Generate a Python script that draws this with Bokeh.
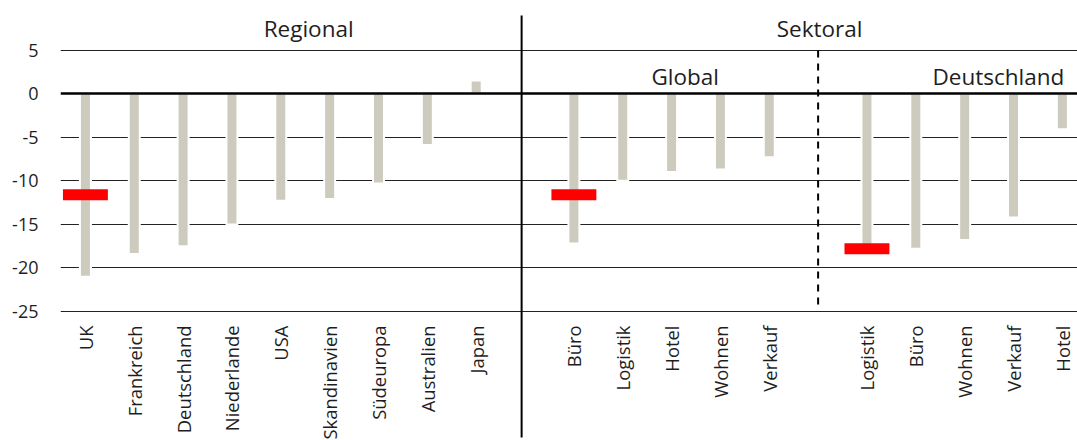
import math
from bokeh.plotting import figure
from bokeh.models import Range1d, FixedTicker, ColumnDataSource
from bokeh.core.properties import value
from bokeh.embed import file_html
from bokeh.resources import INLINE

# ---- data ----
regional_labels = ["UK", "Frankreich", "Deutschland", "Niederlande", "USA",
                   "Skandinavien", "Südeuropa", "Australien", "Japan"]
regional_values = [-21.0, -18.4, -17.5, -15.0, -12.3, -12.1, -10.3, -5.9, 1.5]

global_labels = ["Büro", "Logistik", "Hotel", "Wohnen", "Verkauf"]
global_values = [-17.2, -10.0, -9.0, -8.7, -7.3]

de_labels = ["Logistik", "Büro", "Wohnen", "Verkauf", "Hotel"]
de_values = [-18.4, -17.8, -16.8, -14.2, -4.1]

# red markers: (group, category, value)
marker_cats = [("Regional", "UK"), ("Global", "Büro"), ("Deutschland", "Logistik")]
marker_values = [-11.6, -11.6, -17.8]

y_ticks = [-25, -20, -15, -10, -5, 0, 5]

group_titles = ["Regional", "Sektoral", "Global", "Deutschland"]

# ---- layout positions (slots, with one empty slot between groups) ----
reg_x = list(range(0, len(regional_labels)))
glo_x = list(range(len(regional_labels) + 1, len(regional_labels) + 1 + len(global_labels)))
de_start = glo_x[-1] + 2
de_x = list(range(de_start, de_start + len(de_labels)))

all_x = reg_x + glo_x + de_x
all_labels = regional_labels + global_labels + de_labels
all_values = regional_values + global_values + de_values

pos_lookup = {"Regional": dict(zip(regional_labels, reg_x)),
              "Global": dict(zip(global_labels, glo_x)),
              "Deutschland": dict(zip(de_labels, de_x))}
marker_x = [pos_lookup[g][c] for g, c in marker_cats]

FONT = "Open Sans"
TXT = "#1e1e1e"

p = figure(width=1077, height=440, output_backend="svg", toolbar_location=None,
           x_range=Range1d(-0.51, 20.31), y_range=Range1d(-39.79, 10.68),
           min_border_left=60, min_border_right=0, min_border_top=0, min_border_bottom=0,
           x_axis_location=None)
p.outline_line_color = None
p.xgrid.visible = False
p.ygrid.visible = False
p.background_fill_color = "white"
p.border_fill_color = "white"

ax = p.yaxis[0]
ax.ticker = FixedTicker(ticks=y_ticks)
ax.major_label_overrides = {t: str(t) for t in y_ticks}
ax.axis_line_color = None
ax.major_tick_line_color = None
ax.minor_tick_line_color = None
ax.major_label_standoff = 16
ax.major_label_text_font = FONT
ax.major_label_text_font_size = "18px"
ax.major_label_text_color = TXT

# gridlines (non-zero)
grid_y = [t for t in y_ticks if t != 0]
p.hspan(y=grid_y, line_color="#222222", line_width=1.2)

# bars
src = ColumnDataSource(dict(x=all_x, top=all_values, bottom=[0] * len(all_x)))
p.vbar(x="x", top="top", bottom="bottom", width=0.225, source=src,
       fill_color="#cdcbbd", line_color="white", line_width=2)

# zero line
p.hspan(y=[0], line_color="black", line_width=2.7)

# red markers
p.rect(x=marker_x, y=marker_values, width=0.92, height=11, height_units="screen",
       fill_color="#ff0000", line_color=None)

# separators
sep_solid = (reg_x[-1] + glo_x[0]) / 2 - 0.07
sep_dash = (glo_x[-1] + de_x[0]) / 2
p.segment(x0=[sep_solid], y0=[8.96], x1=[sep_solid], y1=[-39.45], line_color="black", line_width=2)
p.segment(x0=[sep_dash], y0=[4.95], x1=[sep_dash], y1=[-24.6], line_color="black",
          line_width=2, line_dash="7 6")

# category labels
p.text(x=all_x, y=[-26.6] * len(all_x), text=all_labels, angle=math.pi / 2,
       text_align="right", text_baseline="middle", text_font=value(FONT),
       text_font_size="18.4px", text_color=TXT)

# group titles
p.text(x=[4.57, 15.03], y=[7.5, 7.5], text=group_titles[:2], text_align="center",
       text_baseline="middle", text_font=value(FONT), text_font_size="22.5px", text_color=TXT)
p.text(x=[12.28, 18.69], y=[1.95, 1.95], text=group_titles[2:], text_align="center",
       text_baseline="middle", text_font=value(FONT), text_font_size="22.5px", text_color=TXT)

open("out.html", "w").write(file_html(p, INLINE))
